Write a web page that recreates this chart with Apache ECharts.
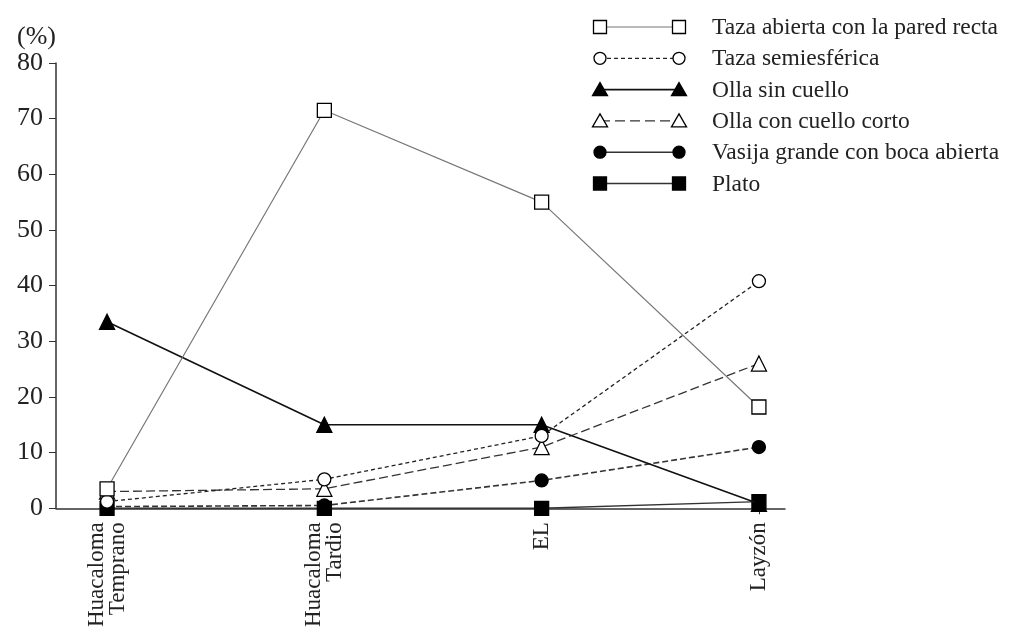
<!DOCTYPE html>
<html><head><meta charset="utf-8">
<script src="https://cdn.jsdelivr.net/npm/echarts@6/dist/echarts.min.js"></script>
<style>html,body{margin:0;padding:0;background:#fff}#c{width:1010px;height:630px}</style>
</head><body><div id="c"></div>
<script>
const categories = ['Huacaloma\nTemprano', 'Huacaloma\nTardio', 'EL', 'Layzón'];
const yTicks = [0, 10, 20, 30, 40, 50, 60, 70, 80];
const seriesNames = ['Taza abierta con la pared recta', 'Taza semiesférica', 'Olla sin cuello', 'Olla con cuello corto', 'Vasija grande con boca abierta', 'Plato'];
const tazaAbierta = [3.5, 71.5, 55, 18.2];
const tazaSemiesferica = [1.2, 5.2, 13, 40.8];
const ollaSinCuello = [33.5, 15, 15, 0.8];
const ollaCuelloCorto = [3, 3.5, 11, 26];
const vasijaGrande = [0.3, 0.5, 5, 11];
const plato = [0, 0, 0, 1.2];

const F = '"Liberation Serif", "DejaVu Serif", serif';
const styles = [
  {sym: 'rect', size: 14, fill: '#fff', line: '#777', width: 1.2, type: 'solid', legendType: 'solid'},
  {sym: 'circle', size: 13, fill: '#fff', line: '#222', width: 1.3, type: [4, 3], legendType: [4, 3]},
  {sym: 'triangle', size: 15, fill: '#000', line: '#111', width: 1.6, type: 'solid', legendType: 'solid'},
  {sym: 'triangle', size: 15, fill: '#fff', line: '#333', width: 1.3, type: [9, 4], legendType: [10, 5]},
  {sym: 'circle', size: 13, fill: '#000', line: '#333', width: 1.6, type: [6, 3], legendType: 'solid'},
  {sym: 'rect', size: 14, fill: '#000', line: '#333', width: 1.4, type: 'solid', legendType: 'solid'}
];
const allData = [tazaAbierta, tazaSemiesferica, ollaSinCuello, ollaCuelloCorto, vasijaGrande, plato];
const idx = categories.map((c, i) => i);

const series = allData.map((d, k) => ({
  name: seriesNames[k], type: 'line',
  data: d.map((v, i) => [i, v]),
  symbol: styles[k].sym, symbolSize: styles[k].size,
  itemStyle: {color: styles[k].fill, borderColor: '#000', borderWidth: 1.3},
  lineStyle: {color: styles[k].line, width: styles[k].width, type: styles[k].type},
  z: 10 - k, animation: false
}));

// legend drawn with graphics
const lg = [];
const lx1 = 600, lx2 = 679, ltx = 712, ly0 = 27, ldy = 31.3;
seriesNames.forEach((n, k) => {
  const y = ly0 + k * ldy, s = styles[k];
  lg.push({type: 'line', shape: {x1: lx1, y1: y, x2: lx2, y2: y}, style: {stroke: s.line, lineWidth: s.width, lineDash: s.legendType === 'solid' ? null : s.legendType}});
  [lx1, lx2].forEach(x => {
    const st = {fill: s.fill, stroke: '#000', lineWidth: 1.3};
    if (s.sym === 'rect') lg.push({type: 'rect', shape: {x: x - 6.5, y: y - 6.5, width: 13, height: 13}, style: st, z: 2});
    else if (s.sym === 'circle') lg.push({type: 'circle', shape: {cx: x, cy: y, r: 6}, style: st, z: 2});
    else lg.push({type: 'polygon', shape: {points: [[x, y - 7], [x - 7.5, y + 6], [x + 7.5, y + 6]]}, style: st, z: 2});
  });
  lg.push({type: 'text', x: ltx, y: y + 1, style: {text: n, font: '23.5px ' + F, fill: '#222', verticalAlign: 'middle'}});
});

const chart = echarts.init(document.getElementById('c'), null, {renderer: 'canvas'});
chart.setOption({
  backgroundColor: '#fff',
  animation: false,
  grid: {left: 56, right: 225, top: 63, bottom: 121, containLabel: false},
  xAxis: {
    type: 'value', min: -0.235, max: 3.12,
    axisLine: {show: true, lineStyle: {color: '#333', width: 1.5}},
    splitLine: {show: false},
    axisTick: {show: true, customValues: idx, length: 6, lineStyle: {color: '#333'}},
    axisLabel: {customValues: idx, rotate: 90, formatter: v => categories[Math.round(v)] || '', fontFamily: F, fontSize: 23, color: '#222', lineHeight: 21, margin: 14}
  },
  yAxis: {
    type: 'value', min: 0, max: 80, interval: 10,
    name: '(%)', nameLocation: 'end', nameGap: 8,
    nameTextStyle: {fontFamily: F, fontSize: 26, color: '#222', align: 'right', padding: [0, 0, 0, 0]},
    axisLine: {show: true, onZero: false, lineStyle: {color: '#333', width: 1.5}},
    axisTick: {show: true, inside: false, length: 7, lineStyle: {color: '#333'}},
    splitLine: {show: false},
    axisLabel: {fontFamily: F, fontSize: 26, color: '#222', margin: 13, formatter: v => yTicks.includes(v) ? String(v) : ''}
  },
  graphic: lg,
  series: series
});
</script></body></html>
